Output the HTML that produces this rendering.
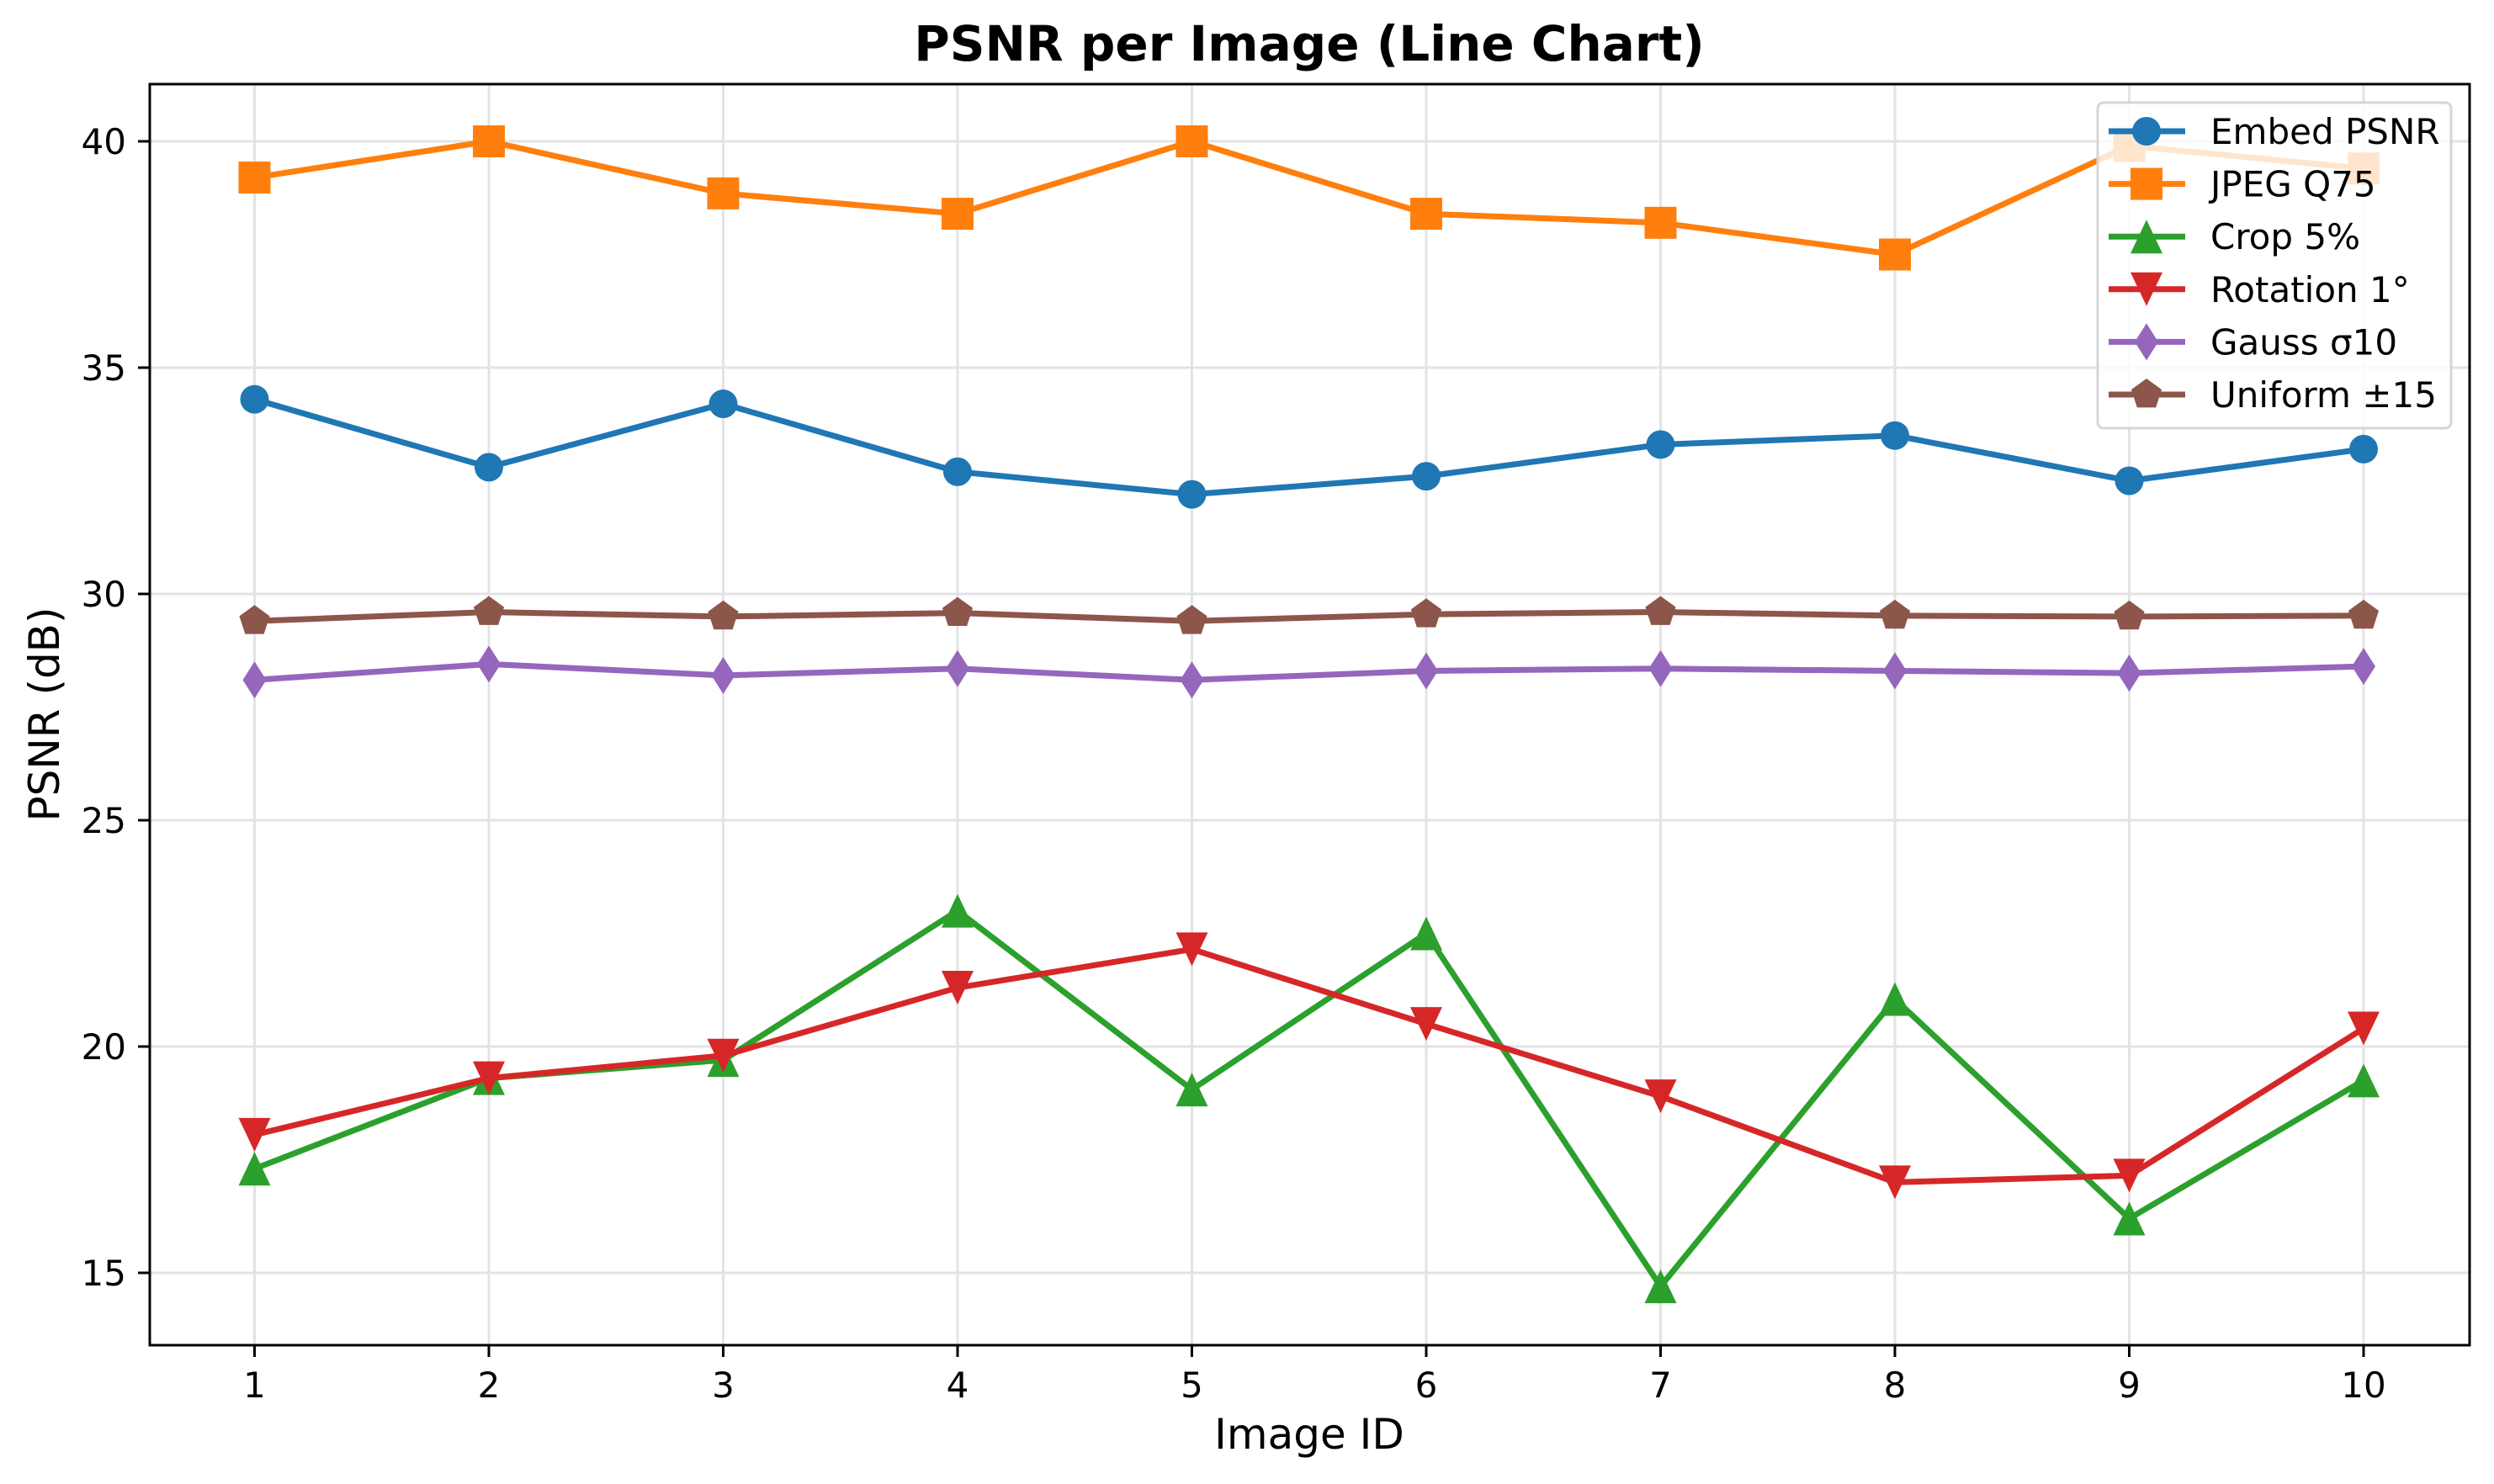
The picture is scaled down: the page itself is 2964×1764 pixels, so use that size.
<!DOCTYPE html>
<html><head><meta charset="utf-8">
<style>
html,body{margin:0;padding:0;background:#fff;}
svg{display:block;font-family:"DejaVu Sans","Liberation Sans",sans-serif;}
</style></head>
<body>
<svg id="chart" width="2964" height="1764" viewBox="0 0 2964 1764" xmlns="http://www.w3.org/2000/svg">
<rect x="0" y="0" width="2964" height="1764" fill="#fff"/>
<text x="1556" y="72" font-size="58" font-weight="bold" text-anchor="middle">PSNR per Image (Line Chart)</text>
<g id="grid"></g>
<g id="series"></g>
<rect x="178" y="100" width="2757" height="1499" fill="none" stroke="#000" stroke-width="3"/>
<g id="ticks"></g>
<text x="1556" y="1722" font-size="50" text-anchor="middle">Image ID</text>
<text transform="translate(70,849) rotate(-90)" font-size="50" text-anchor="middle">PSNR (dB)</text>
<g id="legend"></g>
</svg>
<script>
const imageIds = [1,2,3,4,5,6,7,8,9,10];
const yTicks = [15,20,25,30,35,40];
const embedPsnr = [34.3,32.8,34.2,32.7,32.2,32.6,33.3,33.5,32.5,33.2];
const jpegQ75 = [39.2,40.0,38.85,38.4,40.0,38.4,38.2,37.5,39.9,39.4];
const crop5 = [17.3,19.3,19.7,23.0,19.05,22.5,14.7,21.05,16.2,19.25];
const rotation1 = [18.05,19.3,19.8,21.3,22.15,20.5,18.9,17.0,17.15,20.4];
const gauss10 = [28.1,28.45,28.2,28.35,28.1,28.3,28.35,28.3,28.25,28.4];
const uniform15 = [29.4,29.6,29.5,29.58,29.4,29.55,29.6,29.52,29.5,29.52];

const NS="http://www.w3.org/2000/svg";
function xS(v){return 302.5+(v-1)*278.5;}
function yS(v){return 168+(40-v)*53.8;}
function mk(tag,attrs,parent){const e=document.createElementNS(NS,tag);for(const k in attrs)e.setAttribute(k,attrs[k]);parent.appendChild(e);return e;}
const grid=document.getElementById('grid'),ticks=document.getElementById('ticks'),ser=document.getElementById('series'),leg=document.getElementById('legend');

imageIds.forEach(v=>{
  const g=mk('line',{x1:xS(v),x2:xS(v),y1:100,y2:1599,stroke:'#e3e3e3','stroke-width':3},grid);
  
  
  const t=mk('line',{x1:xS(v),x2:xS(v),y1:1599,y2:1613,stroke:'#000','stroke-width':3},ticks);
  
  
  const l=mk('text',{x:xS(v),y:1661,'font-size':42,'text-anchor':'middle'},ticks);
  l.textContent=v;
  
  
});
yTicks.forEach(v=>{
  const g=mk('line',{x1:178,x2:2935,y1:yS(v),y2:yS(v),stroke:'#e3e3e3','stroke-width':3},grid);
  
  
  const t=mk('line',{x1:164,x2:178,y1:yS(v),y2:yS(v),stroke:'#000','stroke-width':3},ticks);
  
  
  const l=mk('text',{x:150,y:yS(v)+15,'font-size':42,'text-anchor':'end'},ticks);
  l.textContent=v;
  
  
});

function marker(shape,cx,cy,color,parent){
  let e;
  if(shape==='circle') e=mk('circle',{cx:cx,cy:cy,r:17,fill:color},parent);
  else if(shape==='square') e=mk('rect',{x:cx-19,y:cy-19,width:38,height:38,fill:color},parent);
  else if(shape==='up') e=mk('polygon',{points:`${cx},${cy-20} ${cx+19},${cy+20} ${cx-19},${cy+20}`,fill:color},parent);
  else if(shape==='down') e=mk('polygon',{points:`${cx},${cy+20} ${cx+19},${cy-20} ${cx-19},${cy-20}`,fill:color},parent);
  else if(shape==='diamond') e=mk('polygon',{points:`${cx},${cy-22} ${cx+14},${cy} ${cx},${cy+22} ${cx-14},${cy}`,fill:color},parent);
  else { const pts=[];for(let i=0;i<5;i++){const a=-Math.PI/2+i*2*Math.PI/5;pts.push((cx+19*Math.cos(a))+','+(cy+19*Math.sin(a)));} e=mk('polygon',{points:pts.join(' '),fill:color},parent);}
  return e;
}
const seriesList=[
 {name:'Embed PSNR',data:embedPsnr,color:'#1f77b4',shape:'circle',key:'embed-psnr'},
 {name:'JPEG Q75',data:jpegQ75,color:'#ff7f0e',shape:'square',key:'jpeg-q75'},
 {name:'Crop 5%',data:crop5,color:'#2ca02c',shape:'up',key:'crop-5'},
 {name:'Rotation 1°',data:rotation1,color:'#d62728',shape:'down',key:'rotation-1'},
 {name:'Gauss σ10',data:gauss10,color:'#9467bd',shape:'diamond',key:'gauss-10'},
 {name:'Uniform ±15',data:uniform15,color:'#8c564b',shape:'pentagon',key:'uniform-15'}
];
seriesList.forEach(s=>{
  const g=mk('g',{},ser);
  
  
  const pl=mk('polyline',{points:s.data.map((v,i)=>xS(imageIds[i])+','+yS(v)).join(' '),fill:'none',stroke:s.color,'stroke-width':7,'stroke-linejoin':'round'},g);
  
  
  s.data.forEach((v,i)=>{
    const m=marker(s.shape,xS(imageIds[i]),yS(v),s.color,g);
    
    
  });
});
const box=mk('rect',{x:2493,y:122,width:420,height:387,rx:7,fill:'#fff','fill-opacity':0.8,stroke:'#d6d6d6','stroke-width':3},leg);


seriesList.forEach((s,i)=>{
  const y=156+i*62.6;
  const g=mk('g',{},leg);
  
  
  mk('line',{x1:2506,x2:2597,y1:y,y2:y,stroke:s.color,'stroke-width':7},g);
  marker(s.shape,2551,y,s.color,g);
  const t=mk('text',{x:2627,y:y+15,'font-size':42},g);
  t.textContent=s.name;
});
</script>
</body></html>
